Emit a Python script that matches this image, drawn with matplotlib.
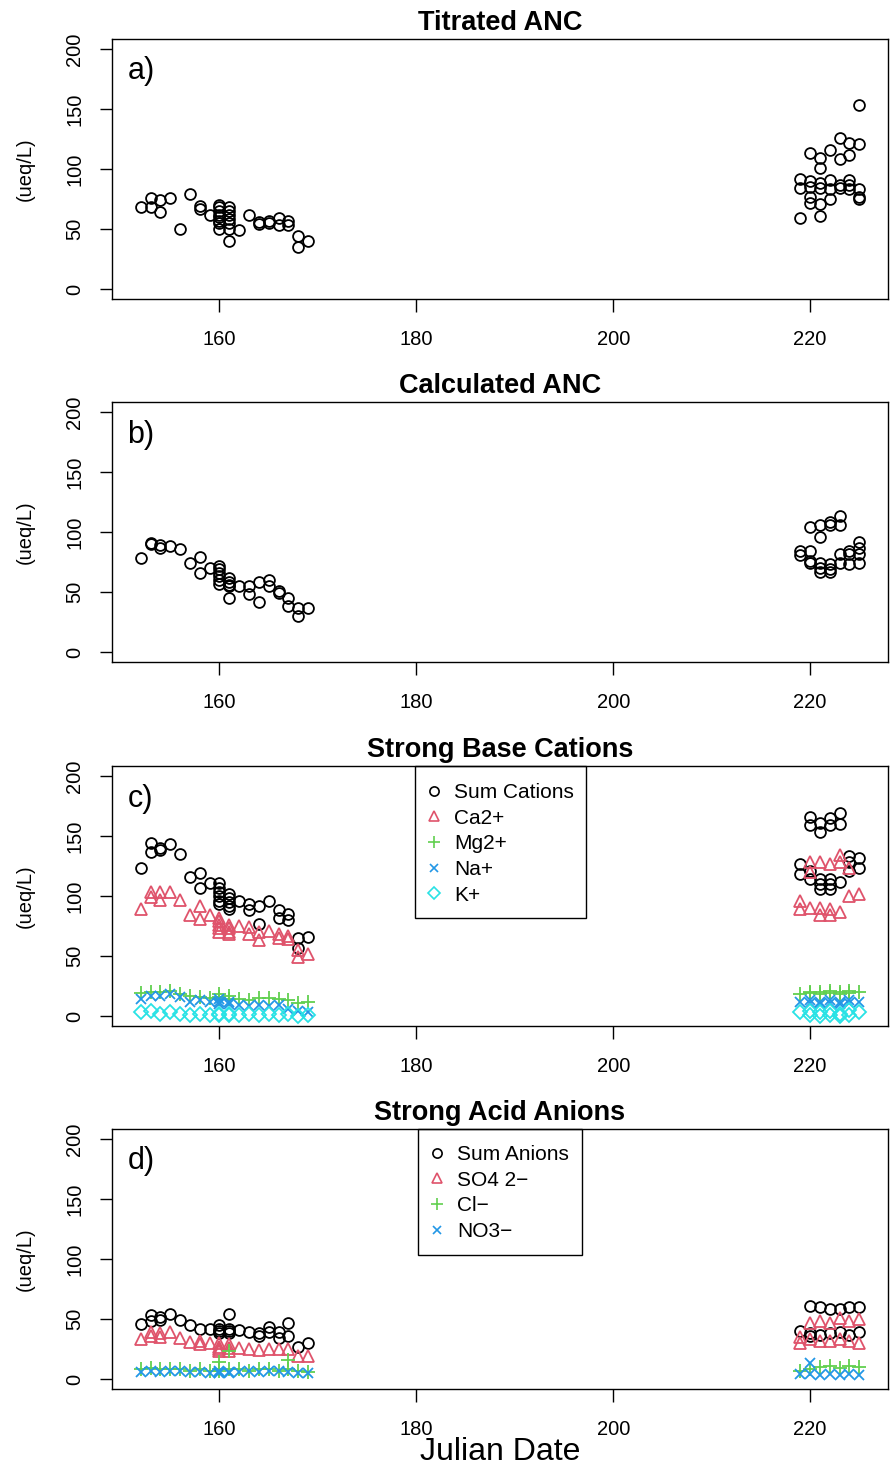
import matplotlib
matplotlib.use("Agg")
import matplotlib.pyplot as plt
from matplotlib.lines import Line2D
from matplotlib.patches import Rectangle

plt.rcParams['font.family'] = ['Liberation Sans', 'DejaVu Sans']

# R default palette colours
BLACK = "black"
RED = "#DF536B"
GREEN = "#61D04F"
BLUE = "#2297E6"
CYAN = "#28E2E5"

# ---- data: {julian day: [values measured that day]} (ueq/L) ----
titrated_anc = {
    152: [68], 153: [76, 68], 154: [74, 64], 155: [76], 156: [50], 157: [79],
    158: [69, 67], 159: [62], 160: [70, 68, 65, 62, 60, 57, 55, 50],
    161: [68, 65, 62, 58, 55, 50, 40], 162: [49], 163: [62], 164: [56, 54],
    165: [57, 55], 166: [59, 53], 167: [57, 53], 168: [44, 35], 169: [40],
    219: [92, 84, 59], 220: [113, 90, 85, 77, 72], 221: [109, 101, 88, 84, 71, 61],
    222: [116, 91, 83, 75], 223: [126, 108, 87, 84], 224: [122, 112, 91, 87, 83],
    225: [153, 121, 83, 77, 75],
}
calculated_anc = {
    152: [78], 153: [91, 90], 154: [89, 87], 155: [88], 156: [86], 157: [74],
    158: [79, 66], 159: [70], 160: [72, 69, 66, 63, 60, 57], 161: [62, 58, 56, 55, 45],
    162: [55], 163: [55, 48], 164: [58, 42], 165: [60, 55], 166: [51, 49],
    167: [45, 38], 168: [37, 30], 169: [37],
    219: [84, 81], 220: [104, 84, 76, 74], 221: [106, 96, 74, 70, 67],
    222: [108, 106, 73, 69, 67], 223: [113, 106, 82, 74], 224: [84, 82, 73],
    225: [92, 87, 82, 74],
}
sum_cations = {
    152: [123], 153: [144, 137], 154: [140, 138], 155: [143], 156: [135], 157: [116],
    158: [119, 107], 159: [111], 160: [111, 107, 103, 100, 96, 93], 161: [102, 98, 95, 92, 89],
    162: [96], 163: [93, 88], 164: [92, 77], 165: [96], 166: [88, 82], 167: [85, 80],
    168: [65, 57], 169: [66],
    219: [127, 118], 220: [166, 159, 121, 114], 221: [161, 153, 114, 110, 106],
    222: [165, 159, 114, 110, 106], 223: [169, 160, 112], 224: [133, 128, 121], 225: [132, 123],
}
ca = {
    152: [89], 153: [103, 99], 154: [103, 97], 155: [103], 156: [97], 157: [84],
    158: [92, 81], 159: [84], 160: [82, 79, 76, 73, 70], 161: [76, 73, 70, 68],
    162: [75], 163: [74, 68], 164: [70, 63], 165: [71], 166: [68, 65], 167: [67, 64],
    168: [55, 49], 169: [52],
    219: [96, 89], 220: [128, 120, 90], 221: [128, 90, 84], 222: [127, 89, 84],
    223: [134, 128, 87], 224: [123, 100], 225: [102],
}
mg = {
    152: [19], 153: [20], 154: [20], 155: [21], 156: [18], 157: [17], 158: [16], 159: [15],
    160: [16, 18, 14], 161: [17, 14], 162: [14], 163: [13], 164: [15], 165: [15],
    166: [14], 167: [13], 168: [11], 169: [12],
    219: [18], 220: [19, 20], 221: [20, 18], 222: [19, 21], 223: [20, 18], 224: [21, 19], 225: [20],
}
na = {
    152: [14], 153: [17], 154: [17], 155: [18], 156: [16], 157: [12], 158: [13], 159: [12],
    160: [12, 10, 14], 161: [12, 10], 162: [9], 163: [8], 164: [9], 165: [8],
    166: [9], 167: [6], 168: [4], 169: [3],
    219: [12], 220: [13, 11], 221: [12, 10], 222: [13, 11], 223: [12, 10], 224: [13, 11], 225: [12],
}
k = {
    152: [3], 153: [4], 154: [2], 155: [3], 156: [2], 157: [1], 158: [2], 159: [1],
    160: [2, 1], 161: [2, 1], 162: [1], 163: [2], 164: [1], 165: [2], 166: [1],
    167: [2], 168: [0], 169: [1],
    219: [3], 220: [4, 1], 221: [3, 0], 222: [4, 1], 223: [2, 0], 224: [5, 1], 225: [3],
}
sum_anions = {
    152: [46], 153: [53, 48], 154: [52, 49], 155: [54], 156: [49], 157: [45], 158: [42],
    159: [42], 160: [45, 42, 40, 38], 161: [54, 42, 40, 38], 162: [41], 163: [39],
    164: [38, 36], 165: [43, 39], 166: [39, 34], 167: [47, 36], 168: [27], 169: [30],
    219: [40], 220: [61, 38, 36], 221: [60, 37], 222: [58, 38], 223: [58, 39],
    224: [60, 37], 225: [60, 39],
}
so4 = {
    152: [33], 153: [39, 36], 154: [38, 35], 155: [39], 156: [34], 157: [31], 158: [32, 29],
    159: [30], 160: [30, 27, 25, 23], 161: [29, 26, 23], 162: [26], 163: [25], 164: [24],
    165: [25], 166: [25], 167: [25], 168: [19], 169: [19],
    219: [35, 30], 220: [47, 33], 221: [48, 32], 222: [47, 32], 223: [51, 33],
    224: [48, 32], 225: [50, 30],
}
cl = {
    152: [8], 153: [9], 154: [8], 155: [8], 156: [8], 157: [7], 158: [8], 159: [7],
    160: [14, 8, 7], 161: [23, 8], 162: [8], 163: [7], 164: [8], 165: [8], 166: [7],
    167: [16, 8], 168: [7], 169: [6],
    219: [7], 220: [8], 221: [10], 222: [11], 223: [9], 224: [11], 225: [10],
}
no3 = {
    152: [6], 153: [7], 154: [6], 155: [7], 156: [7], 157: [6], 158: [6], 159: [5],
    160: [7, 6, 5], 161: [6, 5], 162: [6], 163: [7], 164: [6], 165: [7], 166: [7],
    167: [6], 168: [5], 169: [5],
    219: [4], 220: [13, 4], 221: [3], 222: [4], 223: [3], 224: [4], 225: [3],
}

MARKERS = {"o": 7.8, "^": 8.2, "+": 9.5, "x": 7.5, "D": 7.0}

fig = plt.figure(figsize=(8.9, 14.66), dpi=100)
W, H = 890.0, 1466.0
left, right = 112, 888
tops = [39, 402, 766, 1129]
ph = 260


def flatten(d):
    xs, ys = [], []
    for day, vals in d.items():
        for v in vals:
            xs.append(day)
            ys.append(v)
    return xs, ys


def draw_series(ax, d, marker, color):
    xs, ys = flatten(d)
    ax.plot(xs, ys, linestyle="none", marker=marker, ms=MARKERS[marker],
            mfc="none", mec=color, mew=1.3)


def setup_axes(ax, title, letter):
    ax.set_xlim(149.08, 227.92)
    ax.set_ylim(-8.32, 208.32)
    ax.set_xticks([160, 180, 200, 220])
    ax.set_yticks([0, 50, 100, 150, 200])
    ax.set_yticklabels(["0", "50", "100", "150", "200"], rotation=90, va="center")
    ax.tick_params(axis="both", length=9, width=1, labelsize=14.5, color="black")
    ax.tick_params(axis="x", pad=13)
    ax.tick_params(axis="y", pad=11)
    for s in ax.spines.values():
        s.set_linewidth(1.0)
    ax.set_ylabel("(ueq/L)", fontsize=14.5, labelpad=22)
    ax.text(0.5, 1.01, title, transform=ax.transAxes, ha="center", va="bottom",
            fontsize=19.5, fontweight="bold")
    ax.text(0.02, 0.875, letter, transform=ax.transAxes, ha="left", va="center",
            fontsize=22)


def add_legend(ax, labels, markers, colors, box, marker_x, first_row):
    # box = (x0, y0, x1, y1) in figure pixels (from top-left)
    handles = [Line2D([], [], linestyle="none", marker=m, ms=MARKERS[m] * 0.85,
                      mfc="none", mec=c, mew=1.2) for m, c in zip(markers, colors)]
    hl = 1.0
    hl_px = hl * 15 * 100 / 72
    ax.legend(handles, labels, loc="upper left", frameon=False,
              bbox_to_anchor=((marker_x - hl_px / 2) / W, 1 - (first_row - 8) / H),
              bbox_transform=fig.transFigure, borderaxespad=0, borderpad=0,
              fontsize=15, handlelength=hl, handletextpad=0.45, labelspacing=0.32)
    x0, y0, x1, y1 = box
    fig.patches.append(Rectangle((x0 / W, 1 - y1 / H), (x1 - x0) / W, (y1 - y0) / H,
                                 transform=fig.transFigure, fill=False,
                                 edgecolor="black", linewidth=1.0, zorder=5))


axes = []
for t in tops:
    axes.append(fig.add_axes([left / W, 1 - (t + ph) / H, (right - left) / W, ph / H]))

# a) titrated ANC
draw_series(axes[0], titrated_anc, "o", BLACK)
setup_axes(axes[0], "Titrated ANC", "a)")

# b) calculated ANC
draw_series(axes[1], calculated_anc, "o", BLACK)
setup_axes(axes[1], "Calculated ANC", "b)")

# c) base cations
draw_series(axes[2], sum_cations, "o", BLACK)
draw_series(axes[2], ca, "^", RED)
draw_series(axes[2], mg, "+", GREEN)
draw_series(axes[2], na, "x", BLUE)
draw_series(axes[2], k, "D", CYAN)
setup_axes(axes[2], "Strong Base Cations", "c)")
add_legend(axes[2], ["Sum Cations", "Ca2+", "Mg2+", "Na+", "K+"],
           ["o", "^", "+", "x", "D"], [BLACK, RED, GREEN, BLUE, CYAN],
           (415, 766, 586, 918), 434, 791)

# d) acid anions
draw_series(axes[3], sum_anions, "o", BLACK)
draw_series(axes[3], so4, "^", RED)
draw_series(axes[3], cl, "+", GREEN)
draw_series(axes[3], no3, "x", BLUE)
setup_axes(axes[3], "Strong Acid Anions", "d)")
add_legend(axes[3], ["Sum Anions", "SO4 2\u2212", "Cl\u2212", "NO3\u2212"],
           ["o", "^", "+", "x"], [BLACK, RED, GREEN, BLUE],
           (418, 1129, 582, 1255), 437, 1153)

fig.text(500 / W, 1 - 1452 / H, "Julian Date", ha="center", va="center", fontsize=23)

fig.savefig("out.png", dpi=100)
